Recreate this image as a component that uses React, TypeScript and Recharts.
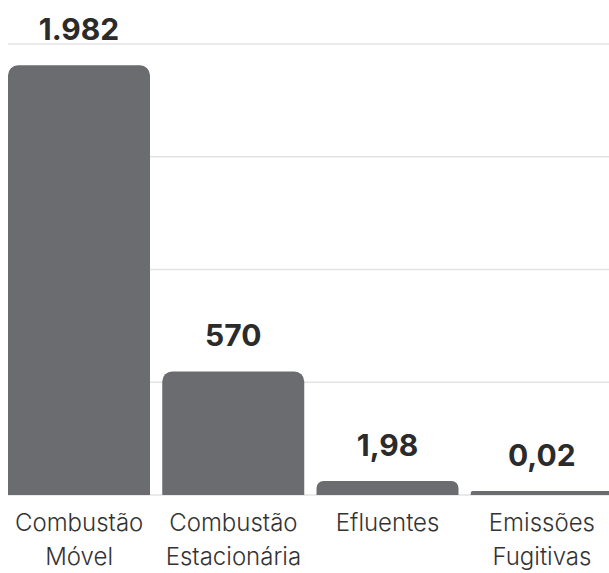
import React from "react";
import { Bar, BarChart, CartesianGrid, LabelList, XAxis, YAxis } from "recharts";

const categories = [
  ["Combustão", "Móvel"],
  ["Combustão", "Estacionária"],
  ["Efluentes"],
  ["Emissões", "Fugitivas"],
];
const emissions = [1982, 570, 1.98, 0.02];
const valueLabels = ["1.982", "570", "1,98", "0,02"];
const gridTicks = [0, 520, 1040, 1560, 2080];

const data = categories.map((lines, i) => ({
  name: lines.join(" "),
  lines,
  value: emissions[i],
  label: valueLabels[i],
}));

const FONT = "Inter, 'Open Sans', sans-serif";

// tiny values would vanish at this scale, so keep a visible stub
const stub = (v: number | null | undefined) => {
  const n = Number(v ?? 0);
  if (n < 0.5) return 4;
  if (n < 10) return 14;
  return 0;
};

function CategoryTick(props: any) {
  const { x, y, payload, index } = props;
  const lines: string[] = data[index]?.lines ?? [payload.value];
  return (
    <text
      x={x}
      y={y}
      textAnchor="middle"
      fill="#333"
      fontFamily={FONT}
      fontWeight={300}
      fontSize={24}
    >
      {lines.map((t, i) => (
        <tspan key={i} x={x} dy={i === 0 ? 28 : 34}>
          {t}
        </tspan>
      ))}
    </text>
  );
}

export default function App() {
  return (
    <div
      style={{
        position: "fixed",
        left: 0,
        top: 0,
        width: 609,
        height: 573,
        overflow: "hidden",
        background: "#fff",
      }}
    >
      <BarChart
        width={625}
        height={573}
        data={data}
        margin={{ top: 44, right: 0, bottom: 0, left: 8 }}
      >
        <CartesianGrid vertical={false} stroke="#e3e3e3" strokeWidth={1.5} />
        <XAxis
          dataKey="name"
          axisLine={false}
          tickLine={false}
          height={78}
          interval={0}
          padding={{ left: -6, right: 6 }}
          tick={<CategoryTick />}
        />
        <YAxis hide domain={[0, 2080]} ticks={gridTicks} />
        <Bar
          dataKey="value"
          fill="#6b6c70"
          barSize={142}
          radius={[10, 10, 0, 0]}
          minPointSize={stub}
          isAnimationActive={false}
        >
          <LabelList
            dataKey="label"
            position="top"
            offset={25}
            fill="#2b2b2b"
            fontFamily={FONT}
            fontWeight={700}
            fontSize={30}
          />
        </Bar>
      </BarChart>
    </div>
  );
}
